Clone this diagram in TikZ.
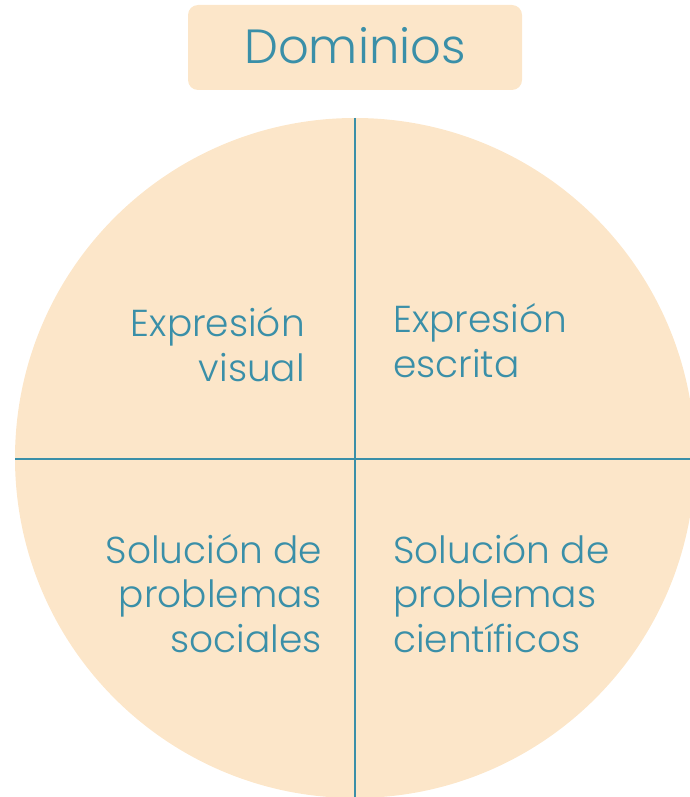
\documentclass[tikz,border=0pt]{standalone}
\usepackage{fontspec}
\setmainfont{Poppins}[UprightFont=* Light]
\definecolor{peach}{HTML}{FCE6C9}
\definecolor{teal}{HTML}{3A8FA8}
\begin{document}
\begin{tikzpicture}[x=1pt,y=-1pt,
  lbl/.style={text=teal,font=\fontsize{37.5}{44.5}\selectfont,inner sep=0pt},
  divider/.style={draw=teal,line width=2.2pt}]
\useasboundingbox (0,0) rectangle (690,797);
\begin{scope}
\clip (0,0) rectangle (690,797);
\fill[peach] (355,458) circle (340);
\end{scope}
\node[fill=peach,rounded corners=10pt,minimum width=334pt,minimum height=85pt,inner sep=0pt] (title) at (355,47.5) {};
\node[text=teal,font=\fontsize{48}{58}\selectfont,anchor=base] (tt) at (355,64) {Dominios};
\coordinate (top) at (355,118);
\coordinate (bot) at (355,797);
\coordinate (lft) at (15,459);
\coordinate (rgt) at (690,459);
\draw[divider] (top) -- (bot);
\draw[divider] (lft) -- (rgt);
\node[lbl,anchor=base east,align=right] (q1) at (305,381) {Expresión\\visual};
\node[lbl,anchor=base west,align=left] (q2) at (393,377) {Expresión\\escrita};
\node[lbl,anchor=base east,align=right] (q3) at (322,652) {Solución de\\problemas\\sociales};
\node[lbl,anchor=base west,align=left] (q4) at (393,652) {Solución de\\problemas\\científicos};
\end{tikzpicture}
\end{document}
